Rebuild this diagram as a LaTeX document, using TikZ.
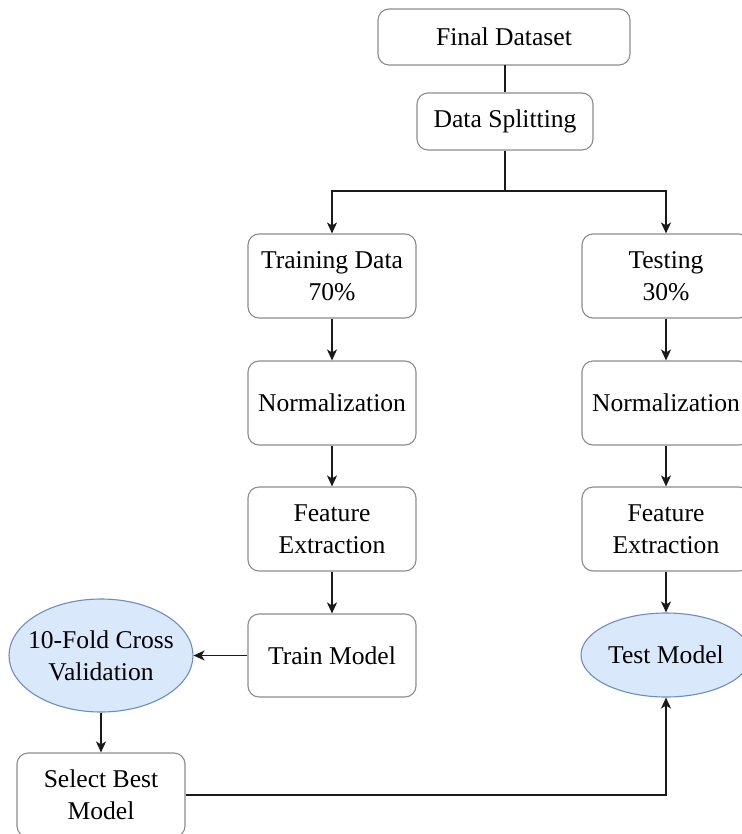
\documentclass[tikz,border=0pt]{standalone}
\usepackage{fontspec}
\setmainfont{Liberation Serif}
\usetikzlibrary{shapes.geometric,arrows.meta}
\definecolor{boxline}{HTML}{8C8C8C}
\definecolor{ellfill}{HTML}{DAE8FC}
\definecolor{ellline}{HTML}{6C8EBF}
\definecolor{conn}{HTML}{1A1A1A}
\tikzset{
  txt/.style={align=center, font=\fontsize{25.7}{32.5}\selectfont},
  box/.style={txt, draw=boxline, line width=1.1bp, rounded corners=11bp, fill=white,
    inner sep=0pt, minimum width=168bp, minimum height=84bp},
  oval/.style={ellipse, draw=ellline, line width=1.1bp, fill=ellfill, inner sep=0pt},
  conline/.style={draw=conn, line width=1.4bp},
  arr/.style={conline, -{Stealth[length=11bp,width=10bp,inset=3bp]}}
}
\begin{document}
\begin{tikzpicture}[x=1bp,y=-1bp]
\clip (0,0) rectangle (742,834);
\fill[white] (0,0) rectangle (742,834);
\node[box, minimum width=252bp, minimum height=56bp] (fd) at (504,37) {Final Dataset};
\node[box, minimum width=176bp, minimum height=57bp] (ds) at (505,121.5) {Data Splitting};
\node[box] (tr) at (332,276) {Training Data\\70\%};
\node[box] (te) at (666,276) {Testing\\30\%};
\node[box] (n1) at (332,403) {Normalization};
\node[box] (n2) at (666,403) {Normalization};
\node[box] (f1) at (332,529) {Feature\\Extraction};
\node[box] (f2) at (666,529) {Feature\\Extraction};
\node[box, minimum height=83bp] (tm) at (332,655.5) {Train Model};
\node[oval, minimum width=170bp, minimum height=84bp,
  label={[txt]center:Test Model}] (test) at (666,655) {};
\node[oval, minimum width=184bp, minimum height=113bp,
  label={[txt]center:10-Fold Cross\\Validation}] (cv) at (101,655.5) {};
\node[box] (sb) at (101,795) {Select Best\\Model};
\coordinate (split) at (505,191);
\draw[conline] (fd.south) -- (ds.south |- fd.south) -- (ds.north);
\draw[conline] (ds.south) -- (split);
\draw[arr] (split) -| (tr.north);
\draw[arr] (split) -| (te.north);
\draw[arr] (tr) -- (n1);
\draw[arr] (n1) -- (f1);
\draw[arr] (f1) -- (tm);
\draw[arr] (te) -- (n2);
\draw[arr] (n2) -- (f2);
\draw[arr] (f2.south) -- (test.north);
\draw[arr] (tm.west) -- (cv.east);
\draw[arr] (cv.south) -- (sb.north);
\draw[arr] (sb.east) -| (test.south);
\end{tikzpicture}
\end{document}
